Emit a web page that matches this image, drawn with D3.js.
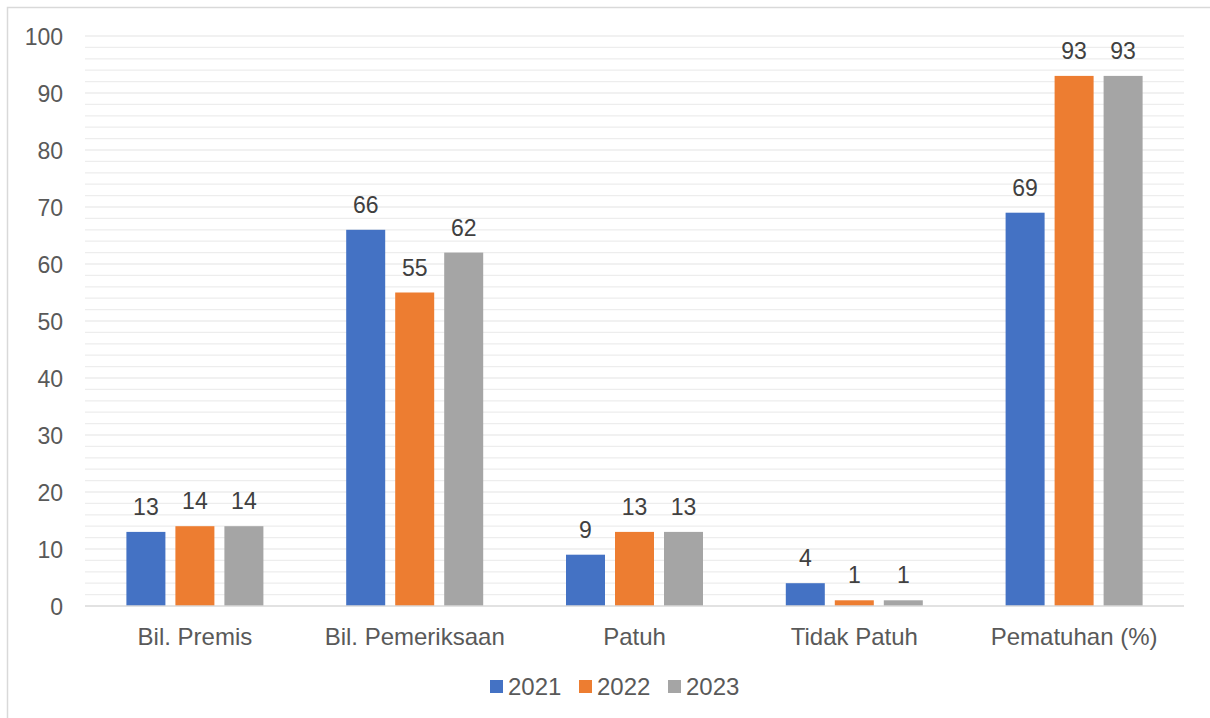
<!DOCTYPE html>
<html><head><meta charset="utf-8">
<script src="https://cdn.jsdelivr.net/npm/d3@7"></script>
<style>body{margin:0;background:#fff;font-family:Arial,"Liberation Sans",sans-serif;}</style>
</head><body><svg id="c" width="1210" height="718"></svg>
<script>
const categories = ["Bil. Premis","Bil. Pemeriksaan","Patuh","Tidak Patuh","Pematuhan (%)"];
const seriesNames = ["2021","2022","2023"];
const v2021 = [13,66,9,4,69];
const v2022 = [14,55,13,1,93];
const v2023 = [14,62,13,1,93];
const colors = ["#4472C4","#ED7D31","#A5A5A5"];
const yTicks = [0,10,20,30,40,50,60,70,80,90,100];
const values = [v2021,v2022,v2023];
const FS = 23;

const svg = d3.select("#c");
svg.append("rect").attr("x",7.5).attr("y",7.5).attr("width",1210).attr("height",720)
  .attr("fill","#fff").attr("stroke","#D9D9D9").attr("stroke-width",1.5);

const L=85,R=1184,T=36,B=606;
const x = d3.scaleBand().domain(categories).range([L,R]);
const y = d3.scaleLinear().domain([0,100]).range([B,T]);
const bw=39, step=49;

const g = svg.append("g");
g.selectAll("line.grid").data(d3.range(2,101,2)).enter().append("line")
  .attr("x1",L).attr("x2",R).attr("y1",d=>y(d)).attr("y2",d=>y(d))
  .attr("stroke","#EDEDED").attr("stroke-width",1.3);

seriesNames.forEach((s,si)=>{
  const off = (si-1)*step - bw/2;
  g.selectAll("rect.s"+si).data(categories).enter().append("rect")
    .attr("x",(c)=>x(c)+x.bandwidth()/2+off)
    .attr("y",(c,i)=>y(values[si][i]))
    .attr("width",bw)
    .attr("height",(c,i)=>B-y(values[si][i]))
    .attr("fill",colors[si]);
  g.selectAll("text.l"+si).data(categories).enter().append("text")
    .attr("x",(c)=>x(c)+x.bandwidth()/2+off+bw/2)
    .attr("y",(c,i)=>y(values[si][i])-17)
    .attr("text-anchor","middle").attr("font-size",FS).attr("fill","#404040")
    .text((c,i)=>values[si][i]);
});

g.append("line").attr("x1",L).attr("x2",R).attr("y1",B).attr("y2",B)
  .attr("stroke","#D9D9D9").attr("stroke-width",1.5);

const ya = d3.axisLeft(y).tickValues(yTicks).tickSize(0).tickPadding(22);
const yg = svg.append("g").attr("transform",`translate(${L},0)`).call(ya);
yg.select(".domain").remove();
yg.selectAll("text").attr("font-size",FS).attr("fill","#595959").attr("font-family","Arial,'Liberation Sans',sans-serif").attr("dy","0.35em");

const xa = d3.axisBottom(x).tickSize(0).tickPadding(22);
const xg = svg.append("g").attr("transform",`translate(0,${B})`).call(xa);
xg.select(".domain").remove();
xg.selectAll("text").attr("font-size",24).attr("fill","#595959").attr("font-family","Arial,'Liberation Sans',sans-serif");

const lg = svg.append("g");
const lx = [490,579,668];
seriesNames.forEach((s,i)=>{
  lg.append("rect").attr("x",lx[i]).attr("y",680).attr("width",13).attr("height",13).attr("fill",colors[i]);
  lg.append("text").attr("x",lx[i]+18).attr("y",695).attr("font-size",24).attr("fill","#595959").text(s);
});
</script></body></html>
